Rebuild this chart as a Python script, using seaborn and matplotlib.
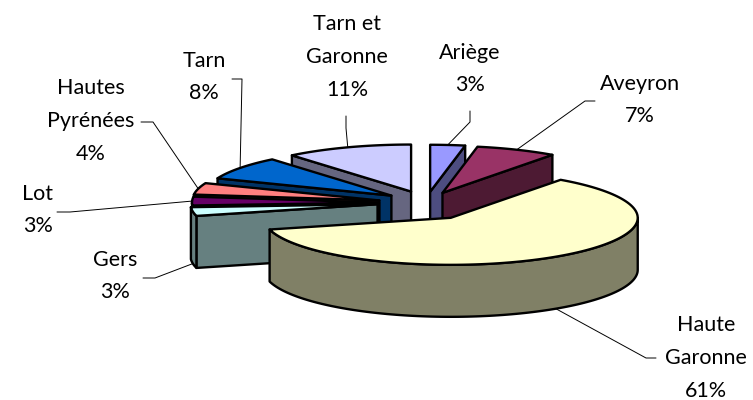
import numpy as np
import seaborn as sns
from matplotlib import pyplot as plt

# === Data ===
departements = ["Ariège", "Aveyron", "Haute\nGaronne", "Gers", "Lot",
                "Hautes\nPyrénées", "Tarn", "Tarn et\nGaronne"]
parts = [3, 7, 61, 3, 3, 4, 8, 11]

top_colors = ["#9999FF", "#993366", "#FFFFCC", "#CCFFFF",
              "#660066", "#FF8080", "#0066CC", "#CCCCFF"]

# === Layout (pixels of the 753x400 picture) ===
CX, CY = 426, 206      # pie centre before explosion
RX, RY = 187, 47       # top ellipse
EX, EY = 44, 14.3      # explosion offset
DEPTH = 52
EDGE = 1.7

# small per-slice shift, the original has some perspective
nudge = [(0, 0), (-1, 0), (0, 0), (-5, -4), (-3, -3), (-4, -2), (1, -2), (0, -1)]

# text centre, then leader bend points going out from the pie
label_xy = [(470, 69), (640, 100), (706, 358), (115, 276),
            (38, 210), (91, 121), (204, 77), (347, 57)]
leader_pts = [[(470, 122), (470, 111)],
              [(585, 101), (595, 101)],
              [(646, 358), (656, 358)],
              [(155, 278), (143, 278)],
              [(70, 212), (57, 212)],
              [(153, 122), (141, 122)],
              [(242, 79), (232, 79)],
              [(346, 128), (346, 116)]]

sns.set_theme(style="white")
plt.rcParams["font.family"] = ["Lato", "DejaVu Sans"]

fig, ax = plt.subplots(figsize=(7.53, 4), dpi=100)
fig.subplots_adjust(0, 0, 1, 1)
ax.set_xlim(0, 753)
ax.set_ylim(400, 0)
ax.axis("off")

palette = sns.color_palette(top_colors)
side_palette = [tuple(c * 0.5 for c in col) for col in palette]


def rim(apex, deg):
    t = np.radians(deg)
    return apex[0] + RX * np.sin(t), apex[1] - RY * np.cos(t)


def extrude(xs, ys, color, z):
    # wall under a top edge
    px = list(xs) + list(xs)[::-1]
    py = list(ys) + [y + DEPTH for y in ys][::-1]
    ax.fill(px, py, facecolor=color, edgecolor="black", linewidth=EDGE,
            joinstyle="round", zorder=z)


# === Angles from the values, clockwise from 12 o'clock ===
cum = np.cumsum([0] + parts) / sum(parts) * 360
starts, ends = cum[:-1], cum[1:]
mids = (starts + ends) / 2
apexes = [(CX + EX * np.sin(np.radians(m)) + n[0], CY - EY * np.cos(np.radians(m)) + n[1])
          for m, n in zip(mids, nudge)]

# === Back slices first, Haute Garonne last ===
order = [7, 0, 1, 6, 5, 4, 3, 2]
for z, i in enumerate(order):
    z = z * 10 + 2
    apex, a0, a1 = apexes[i], starts[i], ends[i]
    side = side_palette[i]

    # radial walls facing the viewer
    if np.sin(np.radians(a0)) < -1e-6:
        x, y = rim(apex, a0)
        extrude([apex[0], x], [apex[1], y], side, z)
    if np.sin(np.radians(a1)) > 1e-6:
        x, y = rim(apex, a1)
        extrude([apex[0], x], [apex[1], y], side, z)

    # outer wall, only the front half of the ellipse
    lo, hi = max(a0, 90), min(a1, 270)
    if lo < hi:
        x, y = rim(apex, np.linspace(lo, hi, 120))
        extrude(x, y, side, z)

    # top face
    x, y = rim(apex, np.linspace(a0, a1, 120))
    ax.fill([apex[0], *x], [apex[1], *y], facecolor=palette[i], edgecolor="black",
            linewidth=EDGE, joinstyle="round", zorder=z + 1)

# === Labels and leaders ===
for i, name in enumerate(departements):
    x0, y0 = rim(apexes[i], mids[i])
    if np.cos(np.radians(mids[i])) < 0:
        y0 += DEPTH
    pts = [(x0, y0)] + leader_pts[i]
    ax.plot([p[0] for p in pts], [p[1] for p in pts], color="black", linewidth=0.7, zorder=1)
    ax.text(label_xy[i][0], label_xy[i][1], f"{name}\n{parts[i]}%", ha="center", va="center",
            ma="center", fontsize=15.5, linespacing=1.8, color="black", zorder=200)

fig.savefig("out.png", dpi=100)
